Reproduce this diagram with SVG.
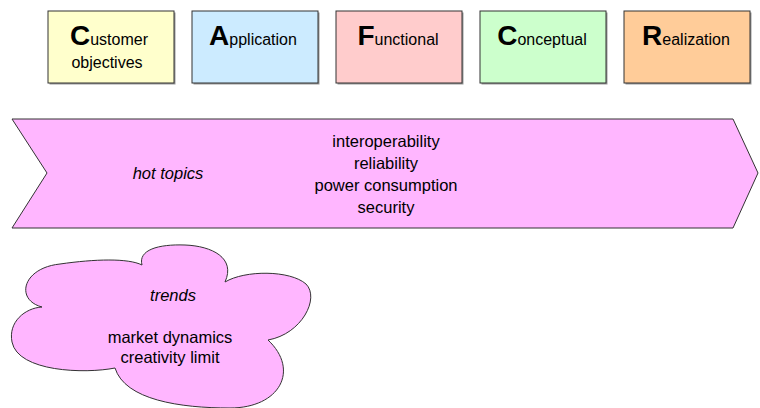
<svg xmlns="http://www.w3.org/2000/svg" width="760" height="408" viewBox="0 0 760 408">
<style>
.box{stroke:#333;stroke-width:1}
.sh{fill:#999}
.t{font-family:"Liberation Sans",Arial,sans-serif;font-size:16px;fill:#000;text-anchor:middle}
.big{font-size:28px;font-weight:bold}
.a{font-family:"Liberation Sans",Arial,sans-serif;font-size:16.5px;fill:#000;text-anchor:middle}
.i{font-style:italic}
.pink{fill:#FFB6FF;stroke:#333;stroke-width:1}
</style>
<rect width="760" height="408" fill="#fff"/>
<g id="customer">
<rect class="sh" x="49.5" y="12.5" width="126" height="72"/>
<rect class="box" x="48" y="11" width="126" height="72" fill="#FFFFCC"/>
<text class="t" x="109" y="45"><tspan class="big">C</tspan>ustomer</text>
<text class="t" x="107" y="68">objectives</text>
</g>
<g id="application">
<rect class="sh" x="193.5" y="12.5" width="126" height="72"/>
<rect class="box" x="192" y="11" width="126" height="72" fill="#CCEBFF"/>
<text class="t" x="253" y="45"><tspan class="big">A</tspan>pplication</text>
</g>
<g id="functional">
<rect class="sh" x="337.5" y="12.5" width="126" height="72"/>
<rect class="box" x="336" y="11" width="126" height="72" fill="#FFCCCC"/>
<text class="t" x="398" y="45"><tspan class="big">F</tspan>unctional</text>
</g>
<g id="conceptual">
<rect class="sh" x="481.5" y="12.5" width="126" height="72"/>
<rect class="box" x="480" y="11" width="126" height="72" fill="#CCFFCC"/>
<text class="t" x="542" y="45"><tspan class="big">C</tspan>onceptual</text>
</g>
<g id="realization">
<rect class="sh" x="625.5" y="12.5" width="126" height="72"/>
<rect class="box" x="624" y="11" width="126" height="72" fill="#FFCC99"/>
<text class="t" x="686" y="45"><tspan class="big">R</tspan>ealization</text>
</g>
<g id="hot-topics">
<path class="pink" d="M12,119 L733,119 L758,173 L733,228 L12,228 L47,173 Z"/>
<text class="a i" x="168" y="179">hot topics</text>
<text class="a" x="386" y="147">interoperability</text>
<text class="a" x="386" y="169">reliability</text>
<text class="a" x="386" y="191">power consumption</text>
<text class="a" x="386" y="213">security</text>
</g>
<g id="trends">
<path class="pink" d="M42,307 C15,300 22,268 60,264 C95,259 128,258 142,265 C138,250 158,244 185,245 C212,246 236,258 225,282 C245,270 290,270 306,284 C320,298 302,334 268,340 C300,370 280,408 230,408 C180,408 125,400 115,368 C85,374 18,372 12,342 C8,322 25,308 42,307 Z"/>
<text class="a i" x="173" y="301">trends</text>
<text class="a" x="170" y="343">market dynamics</text>
<text class="a" x="170" y="363">creativity limit</text>
</g>
<g id="connectors"></g>
</svg>
